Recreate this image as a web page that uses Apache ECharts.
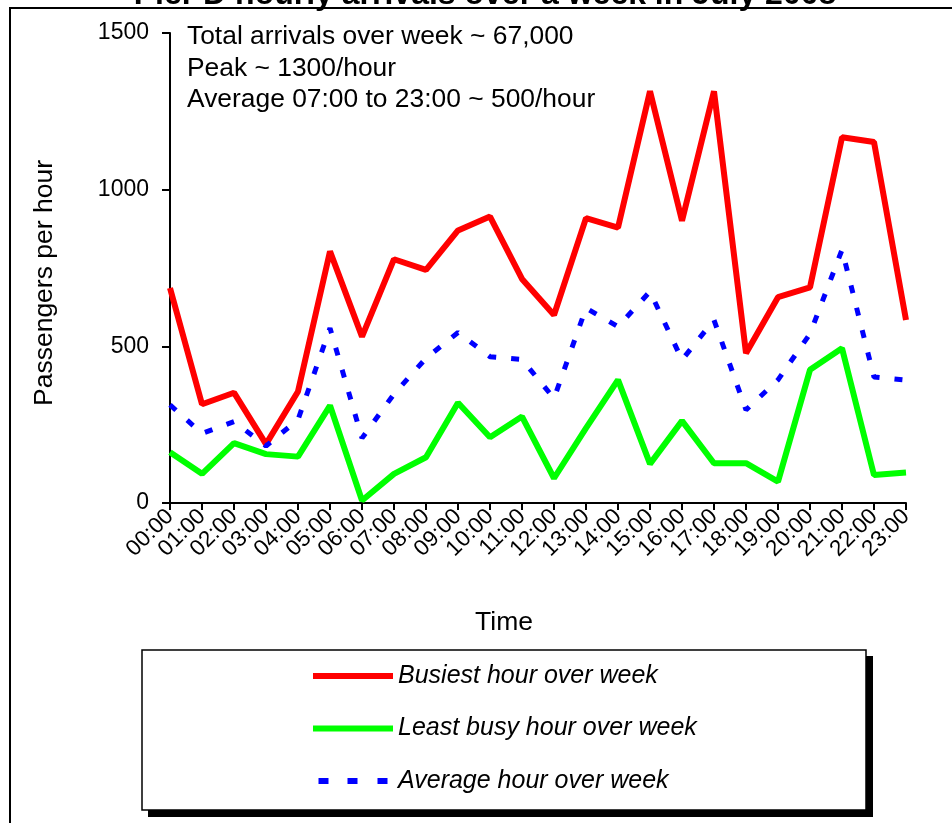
<!DOCTYPE html>
<html>
<head>
<meta charset="utf-8">
<script src="https://cdn.jsdelivr.net/npm/echarts@6/dist/echarts.min.js"></script>
<style>
  html, body { margin: 0; padding: 0; background: #fff; }
  #chart { width: 952px; height: 823px; }
</style>
</head>
<body>
<div id="chart"></div>
<script>
const titleText = 'Pier D hourly arrivals over a week in July 2008';
const notes = ['Total arrivals over week ~ 67,000', 'Peak ~ 1300/hour', 'Average 07:00 to 23:00 ~ 500/hour'];
const hours = ['00:00','01:00','02:00','03:00','04:00','05:00','06:00','07:00','08:00','09:00','10:00','11:00',
               '12:00','13:00','14:00','15:00','16:00','17:00','18:00','19:00','20:00','21:00','22:00','23:00'];
const busiest = [686, 315, 352, 188, 356, 803, 531, 778, 744, 870, 914, 715, 600, 909, 879, 1314, 901, 1314, 478, 657, 688, 1167, 1152, 584];
const least   = [162, 93, 191, 156, 148, 311, 8, 93, 146, 320, 210, 276, 79, 239, 393, 125, 262, 127, 127, 68, 425, 494, 89, 97];
const average = [313, 222, 260, 182, 266, 558, 207, 348, 462, 544, 467, 458, 334, 622, 563, 675, 457, 584, 297, 393, 540, 808, 402, 392];
const yTicks = [0, 500, 1000, 1500];
const seriesNames = ['Busiest hour over week', 'Least busy hour over week', 'Average hour over week'];

const FONT = "'Liberation Sans', Arial, Helvetica, sans-serif";
const chart = echarts.init(document.getElementById('chart'), null, { renderer: 'canvas' });

const graphics = [
  { type: 'rect', z: 0, shape: { x: 10, y: 8, width: 960, height: 830 },
    style: { fill: 'none', stroke: '#000', lineWidth: 2 } },
  { type: 'text', z: 10, style: { x: 485, y: -5, text: titleText, fill: '#000',
    font: "bold 32px " + FONT, align: 'center', verticalAlign: 'middle' } },
  { type: 'rect', z: 0, shape: { x: 148, y: 656, width: 725, height: 161 }, style: { fill: '#000' } },
  { type: 'rect', z: 1, shape: { x: 142, y: 650, width: 724, height: 160 },
    style: { fill: '#fff', stroke: '#000', lineWidth: 1.5 } }
];
notes.forEach((t, i) => {
  graphics.push({ type: 'text', z: 10, style: { x: 187, y: 37 + i * 31.5, text: t, fill: '#000',
    font: "26.4px " + FONT, align: 'left', verticalAlign: 'middle' } });
});

const solidIcon = 'path://M0,0h80v6h-80z';
const dashIcon = 'path://M0,0h10v6h-10z M29,0h10v6h-10z M59,0h10v6h-10z';

chart.setOption({
  animation: false,
  backgroundColor: '#fff',
  graphic: graphics,
  grid: { left: 170, right: 46, top: 33, bottom: 320, containLabel: false },
  legend: {
    orient: 'vertical', left: 313, top: 661, z: 20, padding: 0,
    itemWidth: 80, itemHeight: 6, itemGap: 22.5,
    data: [
      { name: seriesNames[0], icon: solidIcon, itemStyle: { color: '#FF0000' } },
      { name: seriesNames[1], icon: solidIcon, itemStyle: { color: '#00FF00' } },
      { name: seriesNames[2], icon: dashIcon, itemStyle: { color: '#0000FF' } }
    ],
    textStyle: { fontFamily: FONT, fontSize: 25, fontStyle: 'italic', color: '#000', lineHeight: 30 }
  },
  xAxis: {
    type: 'category', data: hours, boundaryGap: false,
    name: 'Time', nameLocation: 'middle', nameGap: 106,
    nameTextStyle: { fontFamily: FONT, fontSize: 26.5, color: '#000', padding: [0, 68, 0, 0] },
    axisLine: { lineStyle: { color: '#000', width: 2 } },
    axisTick: { show: true, inside: false, length: 7, lineStyle: { color: '#000', width: 2 } },
    axisLabel: { rotate: 45, margin: 10, fontFamily: FONT, fontSize: 22.5, color: '#000', interval: 0 },
    splitLine: { show: false }
  },
  yAxis: {
    type: 'value', min: yTicks[0], max: yTicks[yTicks.length - 1], interval: yTicks[1] - yTicks[0],
    name: 'Passengers per hour', nameLocation: 'middle', nameGap: 112,
    nameTextStyle: { fontFamily: FONT, fontSize: 26.5, color: '#000', padding: [0, 30, 0, 0] },
    axisLine: { show: true, lineStyle: { color: '#000', width: 2 } },
    axisTick: { show: true, inside: false, length: 8, lineStyle: { color: '#000', width: 2 } },
    axisLabel: { margin: 21, fontFamily: FONT, fontSize: 23, color: '#000', formatter: v => String(v) },
    splitLine: { show: false }
  },
  series: [
    { name: seriesNames[0], type: 'line', data: busiest, symbol: 'none', z: 5,
      lineStyle: { color: '#FF0000', width: 6 }, itemStyle: { color: '#FF0000' } },
    { name: seriesNames[1], type: 'line', data: least, symbol: 'none', z: 5,
      lineStyle: { color: '#00FF00', width: 6 }, itemStyle: { color: '#00FF00' } },
    { name: seriesNames[2], type: 'line', data: average, symbol: 'none', z: 5,
      lineStyle: { color: '#0000FF', width: 5, type: [8, 15], cap: 'butt' }, itemStyle: { color: '#0000FF' } }
  ]
});
</script>
</body>
</html>
